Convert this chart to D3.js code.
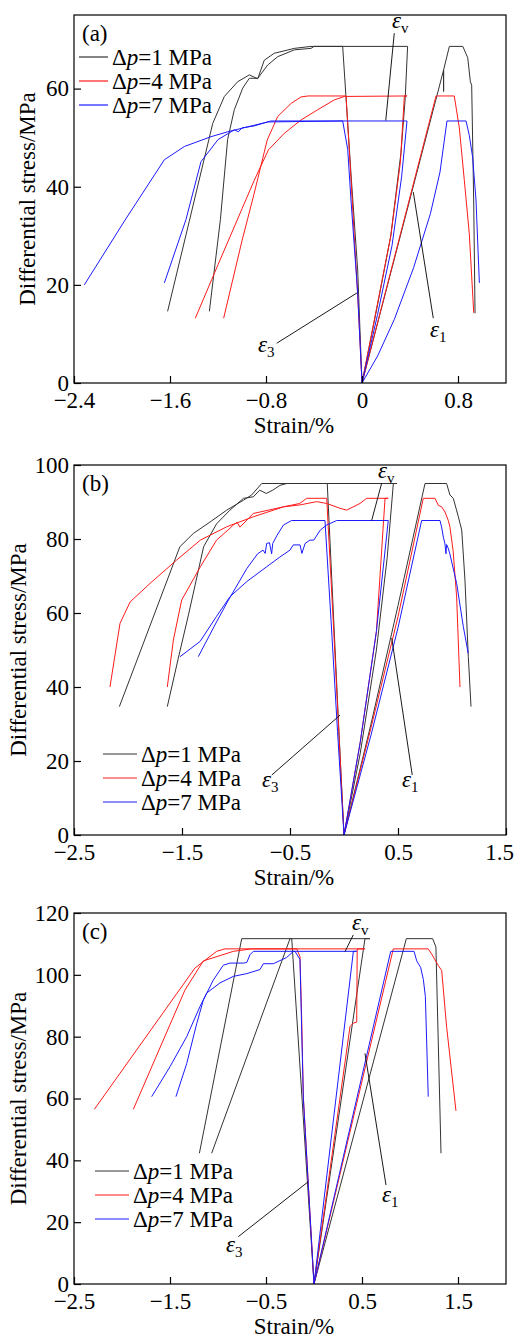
<!DOCTYPE html>
<html>
<head>
<meta charset="utf-8">
<script src="https://cdn.jsdelivr.net/npm/d3@7"></script>
<style>
  body { margin: 0; background: #fff; }
  svg { display: block; }
</style>
</head>
<body>
<svg width="514" height="1338"></svg>
<script>
// ---- data: [strain %, differential stress MPa] ----
// panel (a)
const aBlackE1 = [[0,0],[0.68,63.8],[0.68,59.4],[0.68,63.8],[0.728,68.6],[0.84,68.6],[0.881,66.3],[0.903,61.4],[0.914,60.7],[0.931,36.7],[0.942,14.2]];
const aBlackE3 = [[0,0],[-0.036,23],[-0.09,42],[-0.13,57],[-0.161,68.6],[-0.425,68.6],[-0.564,68.2],[-0.731,67.2],[-0.814,65.8],[-0.869,62],[-0.939,62.8],[-1.036,61.4],[-1.147,58.4],[-1.244,52.9],[-1.44,32.9],[-1.62,14.6]];
const aBlackEv = [[0,0],[0.13,16],[0.24,30],[0.325,47],[0.36,58],[0.38,68.6],[-0.4,68.6],[-0.425,68.2],[-0.564,67.9],[-0.703,66.5],[-0.786,64.8],[-0.869,62.1],[-0.939,62.1],[-0.994,60.1],[-1.064,55.7],[-1.12,49.6],[-1.18,33.3],[-1.272,14.6]];
const aRedE1 = [[0,0],[0.617,58.5],[0.769,58.5],[0.811,52],[0.853,41.2],[0.894,30.5],[0.931,14.3]];
const aRedE3 = [[0,0],[-0.036,18],[-0.1,45],[-0.133,58.5],[-0.45,58.5],[-0.508,58.3],[-0.59,57],[-0.703,54.3],[-0.79,49.5],[-0.9,38.5],[-1.0,29],[-1.153,13.2]];
const aRedEv = [[0,0],[0.12,15],[0.24,30],[0.32,45],[0.353,58.5],[0.375,58.5],[-0.147,58.4],[-0.23,57.7],[-0.369,55.7],[-0.508,53.6],[-0.647,50.9],[-0.78,47.5],[-0.9,41.2],[-1.0,35.5],[-1.2,24.1],[-1.389,13.2]];
const aBlueE1 = [[0,0],[0.13,5.5],[0.27,13],[0.43,23.5],[0.57,34.5],[0.65,43],[0.708,53.4],[0.867,53.4],[0.894,50.5],[0.922,46],[0.95,37.3],[0.978,20.4]];
const aBlueE3 = [[0,0],[-0.036,18.3],[-0.092,37.3],[-0.119,47.6],[-0.161,53.4],[-0.786,53.2],[-0.953,52.2],[-1.119,51.2],[-1.258,50.2],[-1.48,48.2],[-1.647,45.5],[-1.98,33],[-2.314,20]];
const aBlueEv = [[0,0],[0.13,14],[0.25,28],[0.33,42],[0.375,53.4],[-0.76,53.4],[-0.897,52.4],[-1.0,52],[-1.03,51.2],[-1.064,51.6],[-1.2,49.6],[-1.342,45.1],[-1.467,33.3],[-1.647,20.4]];

// panel (b)
const bBlackE1 = [[0,0],[0.25,30],[0.5,62],[0.75,95],[0.95,95],[0.981,91.9],[1.012,91],[1.059,86],[1.09,82.4],[1.12,68.9],[1.151,48.2],[1.176,34.7]];
const bBlackE3 = [[0,0],[-0.05,30],[-0.1,61],[-0.155,95],[-0.53,95],[-0.593,94.5],[-0.66,93.2],[-0.72,92.3],[-0.78,93.2],[-0.84,91.4],[-0.93,91],[-1.056,87.8],[-1.18,84.1],[-1.3,77.9],[-1.44,59.5],[-1.534,47.8],[-1.636,34.7]];
const bBlackEv = [[0,0],[0.15,22],[0.3,50],[0.4,75],[0.457,95],[0.49,95],[-0.762,95],[-0.855,91.9],[-0.93,90.5],[-1.086,87.8],[-1.24,84.6],[-1.395,81.5],[-1.52,77.9],[-1.92,47],[-2.08,34.7]];
const bRedE1 = [[0,0],[0.25,29],[0.5,59],[0.734,91],[0.843,91],[0.873,89.1],[0.904,88.7],[0.935,87.3],[0.966,85],[0.981,83.2],[1.01,76.9],[1.043,64.3],[1.074,40]];
const bRedE3 = [[0,0],[-0.05,29],[-0.1,58],[-0.16,91],[-0.346,91],[-0.41,89.6],[-0.56,88.7],[-0.84,86.9],[-0.963,83.2],[-0.99,84.5],[-1.025,83.8],[-1.056,82.9],[-1.18,79.7],[-1.33,72.5],[-1.503,63.5],[-1.58,52.7],[-1.636,40]];
const bRedEv = [[0,0],[0.15,25],[0.3,55],[0.38,91],[0.41,91],[0.21,91],[0.148,89.6],[0.025,87.8],[-0.037,88.3],[-0.16,89.6],[-0.253,90.1],[-0.41,89.2],[-0.56,88.7],[-0.84,86],[-1.086,83.3],[-1.33,79.7],[-1.55,74.3],[-1.796,68],[-1.98,63],[-2.074,57.2],[-2.167,40]];
const bBlueE1 = [[0,0],[0.25,27],[0.5,56],[0.719,85],[0.889,85],[0.904,83.2],[0.92,80.5],[0.935,78.7],[0.944,76],[0.95,78.5],[0.965,77.5],[0.98,76],[1.043,68],[1.105,56.3],[1.15,49.1]];
const bBlueE3 = [[0,0],[-0.06,28],[-0.12,58],[-0.176,85],[-0.485,85],[-0.56,83.8],[-0.62,81],[-0.66,78.8],[-0.67,76],[-0.69,79],[-0.716,78.8],[-0.73,76.1],[-0.75,77],[-0.8,76],[-0.9,72],[-1.07,63.5],[-1.18,57.6],[-1.349,48.2]];
const bBlueEv = [[0,0],[0.15,25],[0.3,55],[0.41,85],[-0.068,85],[-0.16,83.8],[-0.22,82.4],[-0.28,79.7],[-0.315,79.7],[-0.36,78.8],[-0.39,76.1],[-0.407,78.4],[-0.47,78.4],[-0.5,77],[-0.6,75],[-0.716,72.5],[-0.9,68.5],[-1.056,64.4],[-1.18,59.1],[-1.333,52.3],[-1.518,48.2]];

// panel (c)
const cBlackE1 = [[0,0],[0.962,111.7],[1.236,111.7],[1.27,109],[1.323,42.3]];
const cBlackE3 = [[0,0],[-0.232,111.7],[-0.25,111.7],[-1.066,42.3]];
const cBlackEv = [[0,0],[0.531,111.7],[0.583,111.7],[-0.753,111.7],[-1.194,42.3]];
const cRedE1 = [[0,0],[0.826,108.4],[1.19,108.4],[1.22,107],[1.295,103],[1.33,101.4],[1.382,83],[1.479,56]];
const cRedE3 = [[0,0],[-0.111,60.6],[-0.128,85.5],[-0.146,105.9],[-0.18,108.4],[-0.927,108.4],[-1.014,107.6],[-1.24,102.2],[-2.288,56.5]];
const cRedEv = [[0,0],[0.375,83.3],[0.41,84.4],[0.445,84.7],[0.45,108.4],[0.53,108.4],[-0.649,108.4],[-0.84,107.6],[-1.153,104.5],[-1.344,95.1],[-1.882,56.5]];
const cBlueE1 = [[0,0],[0.799,107.6],[1.042,107.6],[1.07,104.5],[1.111,102.4],[1.139,98.5],[1.16,93],[1.19,60.6]];
const cBlueE3 = [[0,0],[-0.111,60],[-0.146,105],[-0.198,107.6],[-0.215,107.6],[-0.285,105.6],[-0.424,103.6],[-0.528,103.6],[-0.5625,101.7],[-0.7,100.4],[-0.84,99.5],[-0.979,97.4],[-1.118,94.1],[-1.187,89.8],[-1.326,80],[-1.5,70.3],[-1.691,60.6]];
const cBlueEv = [[0,0],[0.41,107.6],[0.444,107.6],[-0.632,107.6],[-0.667,106.5],[-0.7,104],[-0.736,103.8],[-0.875,103.8],[-0.945,103.1],[-1.049,98.3],[-1.153,91.8],[-1.222,84.2],[-1.326,71.3],[-1.438,60.6]];

// legend / series names
const seriesNames = ["Δp=1 MPa", "Δp=4 MPa", "Δp=7 MPa"];
const seriesColors = ["#333", "#ff1a1a", "#1a1aff"];

// axes ticks
const aXTicks = [-2.4, -1.6, -0.8, 0, 0.8];
const aYTicks = [0, 20, 40, 60];
const bXTicks = [-2.5, -1.5, -0.5, 0.5, 1.5];
const bYTicks = [0, 20, 40, 60, 80, 100];
const cXTicks = [-2.5, -1.5, -0.5, 0.5, 1.5];
const cYTicks = [0, 20, 40, 60, 80, 100, 120];

// strain-component annotations: label position and leader line, in data units
const aNotes = [
  { sub: "v", at: [0.25, 72.3], lead: [[0.269, 71.3], [0.198, 53.5]] },
  { sub: "1", at: [0.567, 9.4], lead: [[0.594, 13.2], [0.4275, 38.9]] },
  { sub: "3", at: [-0.867, 6.3], lead: [[-0.711, 8.1], [-0.039, 18.4]] },
];
const bNotes = [
  { sub: "v", at: [0.315, 96.5], lead: [[0.349, 95.1], [0.256, 85.0]] },
  { sub: "1", at: [0.537, 13], lead: [[0.632, 16.2], [0.442, 53.2]] },
  { sub: "3", at: [-0.759, 13], lead: [[-0.669, 16.2], [-0.037, 32.4]] },
];
const cNotes = [
  { sub: "v", at: [0.396, 114.5], lead: [[0.409, 112.9], [0.323, 107.5]] },
  { sub: "1", at: [0.708, 26.5], lead: [[0.75, 32], [0.531, 74.6]] },
  { sub: "3", at: [-0.917, 10.4], lead: [[-0.789, 15.3], [-0.059, 33.1]] },
];

// ---- layout ----
const FONT = '"Liberation Serif", "Times New Roman", serif';
const FS = 23;
const X0 = 74, X1 = 506;

const panels = [
  {
    tag: "(a)", top: 15, bottom: 383, xDomain: [-2.4, 1.2], yDomain: [0, 75],
    xTicks: aXTicks, yTicks: aYTicks, yTitleX: 35,
    curves: [[aBlackE1, aBlackE3, aBlackEv], [aRedE1, aRedE3, aRedEv], [aBlueE1, aBlueE3, aBlueEv]],
    legend: { x0: 79, x1: 108, y: 57 }, notes: aNotes,
  },
  {
    tag: "(b)", top: 465, bottom: 835, xDomain: [-2.5, 1.5], yDomain: [0, 100],
    xTicks: bXTicks, yTicks: bYTicks, yTitleX: 26,
    curves: [[bBlackE1, bBlackE3, bBlackEv], [bRedE1, bRedE3, bRedEv], [bBlueE1, bBlueE3, bBlueEv]],
    legend: { x0: 103, x1: 137, y: 754 }, notes: bNotes,
  },
  {
    tag: "(c)", top: 913, bottom: 1284, xDomain: [-2.5, 2.0], yDomain: [0, 120],
    xTicks: cXTicks, yTicks: cYTicks, yTitleX: 26,
    curves: [[cBlackE1, cBlackE3, cBlackEv], [cRedE1, cRedE3, cRedEv], [cBlueE1, cBlueE3, cBlueEv]],
    legend: { x0: 95, x1: 129, y: 1171 }, notes: cNotes,
  },
];

const svg = d3.select("svg");
svg.append("rect").attr("width", 514).attr("height", 1338).attr("fill", "#fff");

function addText(parent) {
  return parent.append("text").style("font-family", FONT).attr("font-size", FS).attr("fill", "#000");
}

function drawPanel(p) {
  const x = d3.scaleLinear().domain(p.xDomain).range([X0, X1]);
  const y = d3.scaleLinear().domain(p.yDomain).range([p.bottom, p.top]);
  const g = svg.append("g");

  const line = d3.line().x((d) => x(d[0])).y((d) => y(d[1]));

  // curves, one group per pressure drop
  p.curves.forEach((set, i) => {
    g.append("g")
      .selectAll("path")
      .data(set)
      .join("path")
      .attr("d", line)
      .attr("fill", "none")
      .attr("stroke", seriesColors[i])
      .attr("stroke-width", 1)
      .attr("stroke-linejoin", "round");
  });

  // frame
  g.append("rect")
    .attr("x", X0)
    .attr("y", p.top)
    .attr("width", X1 - X0)
    .attr("height", p.bottom - p.top)
    .attr("fill", "none")
    .attr("stroke", "#000")
    .attr("stroke-width", 1.2);

  const xAxis = g
    .append("g")
    .attr("transform", `translate(0,${p.bottom})`)
    .call(d3.axisBottom(x).tickValues(p.xTicks).tickSize(-7).tickSizeOuter(0).tickPadding(9).tickFormat(d3.format("")));
  const yAxis = g
    .append("g")
    .attr("transform", `translate(${X0},0)`)
    .call(d3.axisLeft(y).tickValues(p.yTicks).tickSize(-7).tickSizeOuter(0).tickPadding(5));

  [xAxis, yAxis].forEach((a) => {
    a.select(".domain").remove();
    a.selectAll(".tick line").attr("stroke", "#000").attr("stroke-width", 1.2);
    a.attr("font-size", FS).attr("font-family", null);
    a.selectAll("text").attr("fill", "#000").style("font-family", FONT);
  });
  // keep the last x label inside the picture
  xAxis.selectAll(".tick text").filter((d) => x(d) > 495).attr("dx", -7);

  // axis titles
  addText(g)
    .attr("x", 294)
    .attr("y", p.bottom + 50)
    .attr("text-anchor", "middle")
    .text("Strain/%");
  addText(g)
    .attr("transform", `translate(${p.yTitleX},${(p.top + p.bottom) / 2}) rotate(-90)`)
    .attr("text-anchor", "middle")
    .text("Differential stress/MPa");

  // panel tag
  addText(g).attr("x", 82).attr("y", p.top + 26).text(p.tag);

  // legend
  const lg = g.append("g");
  seriesNames.forEach((name, i) => {
    const ly = p.legend.y + i * 24;
    lg.append("line")
      .attr("x1", p.legend.x0)
      .attr("x2", p.legend.x1)
      .attr("y1", ly)
      .attr("y2", ly)
      .attr("stroke", seriesColors[i])
      .attr("stroke-width", 1.2);
    const t = addText(lg).attr("x", p.legend.x1 + 4).attr("y", ly + 8);
    t.append("tspan").text("Δ");
    t.append("tspan").attr("font-style", "italic").text("p");
    t.append("tspan").text(name.slice(2));
  });

  // strain component labels with leader lines
  p.notes.forEach((n) => {
    g.append("line")
      .attr("x1", x(n.lead[0][0]))
      .attr("y1", y(n.lead[0][1]))
      .attr("x2", x(n.lead[1][0]))
      .attr("y2", y(n.lead[1][1]))
      .attr("stroke", "#000")
      .attr("stroke-width", 0.9);
    const t = addText(g).attr("x", x(n.at[0])).attr("y", y(n.at[1]));
    t.append("tspan").attr("font-style", "italic").text("ε");
    t.append("tspan").attr("font-size", 15).attr("dy", 5).text(n.sub);
  });
}

panels.forEach(drawPanel);
</script>
</body>
</html>
